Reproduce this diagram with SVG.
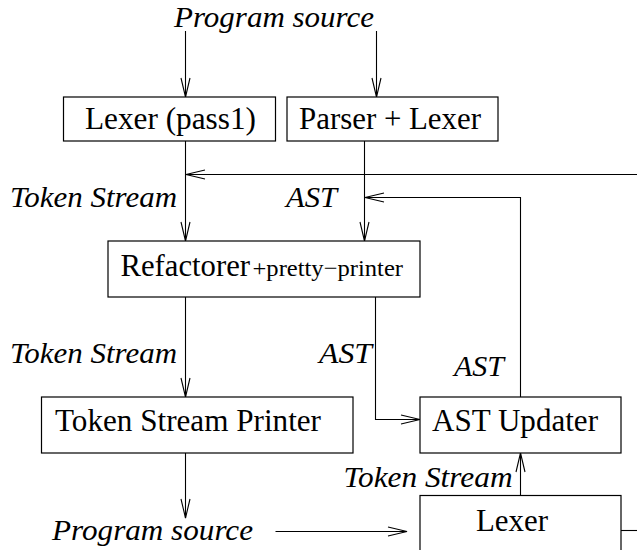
<svg xmlns="http://www.w3.org/2000/svg" width="637" height="550" viewBox="0 0 637 550">
<style>
.box{fill:#fff;stroke:#000;stroke-width:1.2}
.lbl{font-family:"Liberation Serif","Times New Roman",serif;font-size:31px;fill:#000}
.it{font-family:"Liberation Serif","Times New Roman",serif;font-style:italic;font-size:30px;fill:#000}
.sm{font-family:"Liberation Serif","Times New Roman",serif;font-size:24px;fill:#000}
.con{fill:none;stroke:#000;stroke-width:1.1;marker-end:url(#ah)}
.ln{fill:none;stroke:#000;stroke-width:1.1}
</style>
<defs>
<marker id="ah" markerWidth="22" markerHeight="12" refX="19" refY="5" orient="auto" markerUnits="userSpaceOnUse" overflow="visible">
<path d="M0,0.5 L19,5 L0,9.5" fill="none" stroke="#000" stroke-width="1.1"/>
</marker>
</defs>
<g id="connectors">
<path class="con" d="M185.5,31 L185.5,97"/>
<path class="con" d="M376.5,31 L376.5,97"/>
<path class="con" d="M637,174.5 L186,174.5"/>
<path class="con" d="M185.5,141 L185.5,241"/>
<path class="con" d="M364.5,141 L364.5,241"/>
<path class="con" d="M520.5,397 L520.5,197.5 L365,197.5"/>
<path class="con" d="M185.5,297 L185.5,397"/>
<path class="con" d="M375.5,297 L375.5,419.5 L420,419.5"/>
<path class="con" d="M185.5,453 L185.5,518"/>
<path class="con" d="M275.5,531.5 L407,531.5"/>
<path class="con" d="M520.5,495.5 L520.5,453"/>
<path class="ln" d="M621,530.5 L637,530.5"/>
</g>
<g id="labels">
<text class="it" x="174" y="27" textLength="200" lengthAdjust="spacingAndGlyphs">Program source</text>
<text class="it" x="10" y="207" textLength="167" lengthAdjust="spacingAndGlyphs">Token Stream</text>
<text class="it" x="286" y="207" textLength="51" lengthAdjust="spacingAndGlyphs">AST</text>
<text class="it" x="10" y="363" textLength="167" lengthAdjust="spacingAndGlyphs">Token Stream</text>
<text class="it" x="319" y="363" textLength="53" lengthAdjust="spacingAndGlyphs">AST</text>
<text class="it" x="454" y="375.5" textLength="50" lengthAdjust="spacingAndGlyphs">AST</text>
<text class="it" x="343.5" y="486.5" textLength="169" lengthAdjust="spacingAndGlyphs">Token Stream</text>
<text class="it" x="52" y="540" textLength="201" lengthAdjust="spacingAndGlyphs">Program source</text>
</g>
<g id="lexer-pass1">
<rect class="box" x="63.5" y="97" width="212" height="44"/>
<text class="lbl" x="85" y="129" textLength="171" lengthAdjust="spacingAndGlyphs">Lexer (pass1)</text>
</g>
<g id="parser-lexer">
<rect class="box" x="287" y="97" width="211" height="44"/>
<text class="lbl" x="299" y="129" textLength="182" lengthAdjust="spacingAndGlyphs">Parser + Lexer</text>
</g>
<g id="refactorer">
<rect class="box" x="108" y="241" width="312" height="56"/>
<text class="lbl" x="120.5" y="275.5" textLength="129.5" lengthAdjust="spacingAndGlyphs">Refactorer</text>
<text class="sm" x="252.5" y="275.5" textLength="150.5" lengthAdjust="spacingAndGlyphs">+pretty−printer</text>
</g>
<g id="token-stream-printer">
<rect class="box" x="41.5" y="397" width="311.5" height="56"/>
<text class="lbl" x="55" y="431" textLength="266" lengthAdjust="spacingAndGlyphs">Token Stream Printer</text>
</g>
<g id="ast-updater">
<rect class="box" x="420" y="397" width="201" height="56"/>
<text class="lbl" x="432" y="431" textLength="166" lengthAdjust="spacingAndGlyphs">AST Updater</text>
</g>
<g id="lexer">
<rect class="box" x="420" y="495.5" width="201" height="70"/>
<text class="lbl" x="476" y="530.5" textLength="72" lengthAdjust="spacingAndGlyphs">Lexer</text>
</g>
</svg>
